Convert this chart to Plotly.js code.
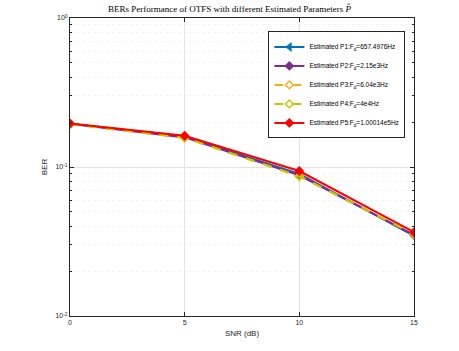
<!DOCTYPE html>
<html><head><meta charset="utf-8">
<script src="https://cdn.plot.ly/plotly-3.0.1.min.js"></script>
<style>html,body{margin:0;padding:0;background:#fff;}#chart{width:459px;height:351px;}</style>
</head><body><div id="chart"></div>
<script>
const snr = [0, 5, 10, 15];
const berP1 = [0.195, 0.160, 0.090, 0.0345];
const berP2 = [0.195, 0.158, 0.088, 0.0350];
const berP3 = [0.194, 0.157, 0.087, 0.0355];
const berP4 = [0.194, 0.157, 0.0865, 0.0355];
const berP5 = [0.196, 0.162, 0.094, 0.0365];
const yTickVals = [0.01, 0.1, 1];
const yTickText = ['10<sup>-2</sup>','10<sup>-1</sup>','10<sup>0</sup>'];
const names = ['Estimated P1:F<sub>d</sub>=657.4976Hz','Estimated P2:F<sub>d</sub>=2.15e3Hz','Estimated P3:F<sub>d</sub>=6.04e3Hz','Estimated P4:F<sub>d</sub>=4e4Hz','Estimated P5:F<sub>d</sub>=1.00014e5Hz'];
const series = [berP1, berP2, berP3, berP4, berP5];
const colors = ['#0072BD','#7E2F8E','#EDB120','#C7C700','#FF0000'];
const dashes = ['solid','solid','dash','dash','solid'];
const symbols = ['triangle-left','diamond','diamond-open','diamond-open','diamond'];
const traces = series.map((s,i)=>({
  x: snr, y: s, name: names[i], type:'scatter', mode:'lines+markers',
  line:{color:colors[i], width:2, dash:dashes[i]},
  marker:{symbol:symbols[i], size:6, color:colors[i], line:{color:colors[i], width:1.5}}
}));
const layout = {
  width:459, height:351,
  margin:{l:70, r:45, t:18, b:35},
  paper_bgcolor:'#fff', plot_bgcolor:'#fff',
  title:{text:'BERs Performance of OTFS with different Estimated Parameters <i>P̂</i>', font:{family:'Liberation Serif', size:9, color:'#000'}, x:0.5, xanchor:'center', y:0.985, yanchor:'top'},
  font:{family:'Liberation Sans, Arial', size:7, color:'#262626'},
  xaxis:{range:[0,15], tickvals:[0,5,10,15], ticks:'inside', ticklen:4, tickcolor:'#262626',
    showline:true, mirror:'ticks', linecolor:'#262626', linewidth:1,
    showgrid:true, gridcolor:'#e3e3e3', gridwidth:1, zeroline:false,
    title:{text:'SNR (dB)', font:{size:8, color:'#262626'}, standoff:4}, tickfont:{size:7}},
  yaxis:{type:'log', range:[-2,0], tickvals:yTickVals, ticktext:yTickText, ticks:'inside', ticklen:4, tickcolor:'#262626',
    showline:true, mirror:'ticks', linecolor:'#262626', linewidth:1,
    showgrid:true, gridcolor:'#e3e3e3', gridwidth:1, zeroline:false,
    minor:{dtick:'D1', ticks:'inside', ticklen:2, tickcolor:'#262626', showgrid:true, gridcolor:'#f2f2f2', griddash:'dot', gridwidth:1},
    title:{text:'BER', font:{size:8, color:'#262626'}, standoff:6}, tickfont:{size:7}},
  legend:{x:0.975, y:0.955, xanchor:'right', yanchor:'top', bordercolor:'#262626', borderwidth:1, bgcolor:'#fff',
    font:{size:6.5, color:'#000'}, tracegroupgap:0, itemwidth:30},
  showlegend:true
};
Plotly.newPlot('chart', traces, layout, {displayModeBar:false, staticPlot:true});
</script></body></html>
